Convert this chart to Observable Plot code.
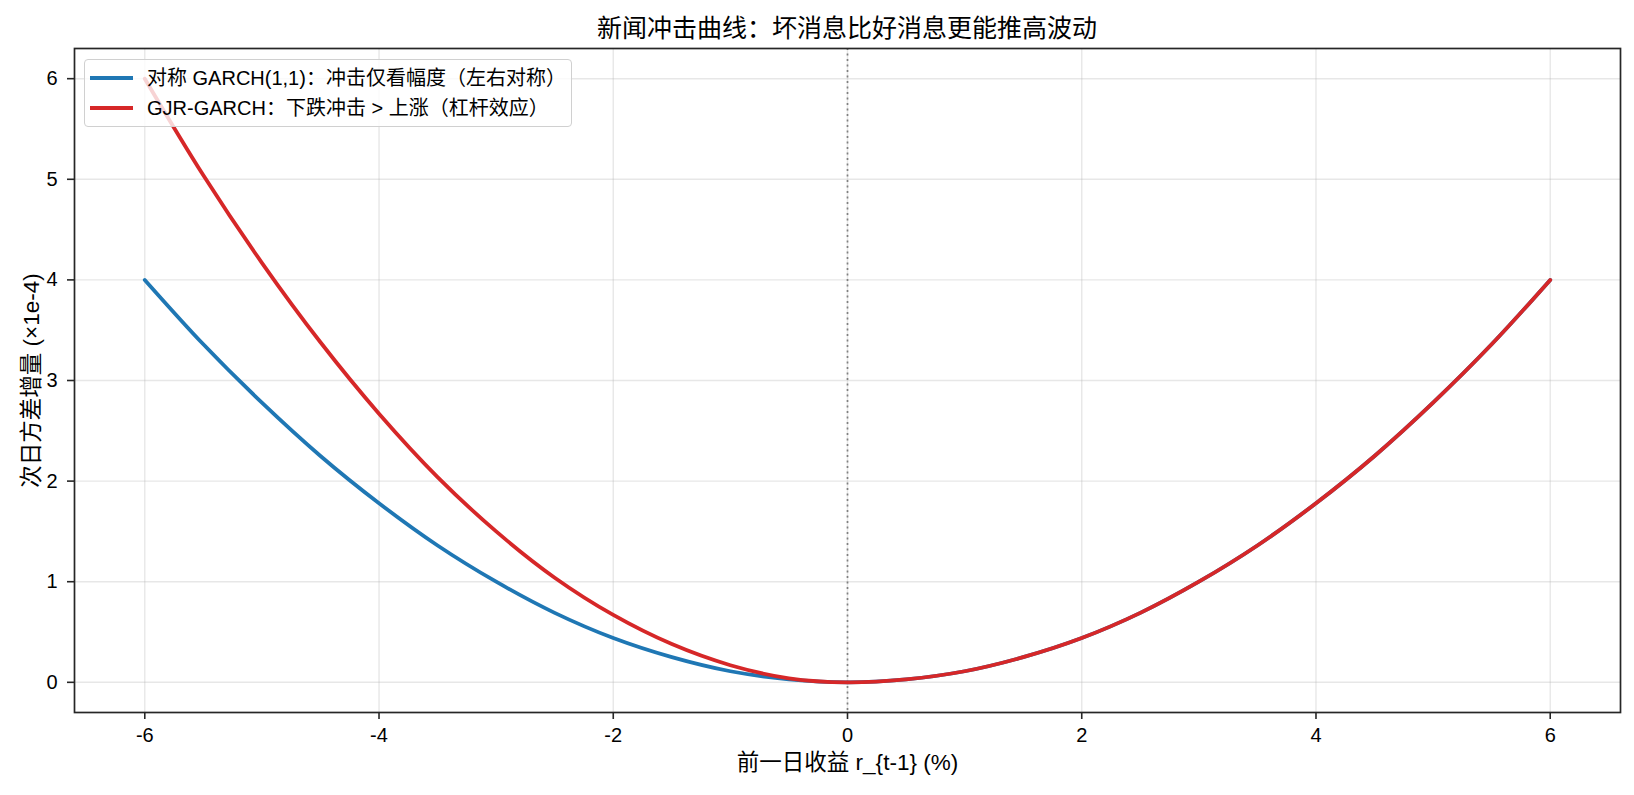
<!DOCTYPE html>
<html>
<head>
<meta charset="utf-8">
<script src="https://cdn.jsdelivr.net/npm/d3@7"></script>
<script src="https://cdn.jsdelivr.net/npm/@observablehq/plot@0.6"></script>
<style>
  html, body { margin: 0; padding: 0; background: #fff; }
  #wrap { position: relative; width: 1634px; height: 795px; font-family: "Liberation Sans", Arial, "Noto Sans CJK SC", sans-serif; color: #000; }
  #title { height: 46px; box-sizing: border-box; padding-top: 7px; line-height: 42px; text-align: center; font-size: 25px; padding-left: 60px; white-space: nowrap; }
  #legend { position: absolute; left: 84px; top: 59px; width: 488px; height: 68px; box-sizing: border-box;
            border: 1px solid #d0d0d0; border-radius: 4px; background: rgba(255,255,255,0.8); font-size: 20px; }
  .row { position: absolute; left: 0; height: 22px; line-height: 22px; white-space: nowrap; }
  .sw { position: absolute; left: 5px; top: 9px; width: 43px; height: 4px; }
  .lab { position: absolute; left: 62px; top: 0; }
</style>
</head>
<body>
<div id="wrap">
  <div id="title"></div>
  <div id="chart"></div>
  <div id="legend"></div>
</div>
<script>
// Previous-day return (%) at which the curves are sampled
const returns = [-6, -5.5, -5, -4.5, -4, -3.5, -3, -2.5, -2, -1.5, -1, -0.5, 0,
                 0.5, 1, 1.5, 2, 2.5, 3, 3.5, 4, 4.5, 5, 5.5, 6];
// Next-day variance increment (×1e-4), symmetric GARCH(1,1)
const garchImpact = [4.0, 3.36, 2.78, 2.25, 1.78, 1.36, 1.0, 0.69, 0.44, 0.25, 0.11, 0.03, 0,
                     0.03, 0.11, 0.25, 0.44, 0.69, 1.0, 1.36, 1.78, 2.25, 2.78, 3.36, 4.0];
// Next-day variance increment (×1e-4), GJR-GARCH (leverage on the negative side)
const gjrImpact = [6.0, 5.04, 4.17, 3.38, 2.67, 2.04, 1.5, 1.04, 0.67, 0.38, 0.17, 0.04, 0,
                   0.03, 0.11, 0.25, 0.44, 0.69, 1.0, 1.36, 1.78, 2.25, 2.78, 3.36, 4.0];

const seriesNames = ["对称 GARCH(1,1)：冲击仅看幅度（左右对称）", "GJR-GARCH：下跌冲击 > 上涨（杠杆效应）"];
const seriesColors = ["#1f77b4", "#d62728"];
const xTicks = [-6, -4, -2, 0, 2, 4, 6];
const yTicks = [0, 1, 2, 3, 4, 5, 6];
const titleText = "新闻冲击曲线：坏消息比好消息更能推高波动";
const xLabel = "前一日收益 r_{t-1} (%)";
const yLabel = "次日方差增量 (×1e-4)";

const rows = [];
returns.forEach((r, i) => rows.push({x: r, y: garchImpact[i], s: seriesNames[0]}));
returns.forEach((r, i) => rows.push({x: r, y: gjrImpact[i], s: seriesNames[1]}));

document.getElementById("title").textContent = titleText;

const font = '"Liberation Sans", Arial, "Noto Sans CJK SC", sans-serif';

const chart = Plot.plot({
  width: 1634,
  height: 749,
  marginLeft: 74,
  marginRight: 14,
  marginTop: 2,
  marginBottom: 83,
  style: {fontFamily: font, fontSize: "20px", color: "#000", background: "#fff"},
  x: {domain: [-6.6, 6.6]},
  y: {domain: [-0.3, 6.3]},
  color: {domain: seriesNames, range: seriesColors},
  marks: [
    Plot.gridX(xTicks, {stroke: "#b0b0b0", strokeOpacity: 0.3, strokeWidth: 1.4}),
    Plot.gridY(yTicks, {stroke: "#b0b0b0", strokeOpacity: 0.3, strokeWidth: 1.4}),
    Plot.ruleX([0], {stroke: "#808080", strokeWidth: 1.7, strokeDasharray: "2.1,3.4"}),
    Plot.line(rows, {x: "x", y: "y", z: "s", stroke: "s", strokeWidth: 3.8, curve: "catmull-rom"}),
    Plot.frame({stroke: "#262626", strokeWidth: 1.7}),
    Plot.axisX(xTicks, {tickSize: 7, tickPadding: 8, fontSize: 20, label: null, tickFormat: d => String(d), stroke: "#262626", strokeWidth: 1.6}),
    Plot.axisY(yTicks, {tickSize: 7, tickPadding: 10, fontSize: 20, label: null, tickFormat: d => String(d), stroke: "#262626", strokeWidth: 1.6}),
    Plot.text([xLabel], {frameAnchor: "bottom", dy: 57, fontSize: 22.5, text: d => d}),
    Plot.text([yLabel], {frameAnchor: "left", dx: -43, rotate: -90, textAnchor: "middle", fontSize: 22.5, text: d => d})
  ]
});
document.getElementById("chart").appendChild(chart);

// Legend box drawn inside the upper-left corner of the axes
const legend = document.getElementById("legend");
seriesNames.forEach((name, i) => {
  const row = document.createElement("div");
  row.className = "row";
  row.style.top = (i === 0 ? 7 : 37) + "px";
  const sw = document.createElement("div");
  sw.className = "sw";
  sw.style.background = seriesColors[i];
  const lab = document.createElement("div");
  lab.className = "lab";
  lab.textContent = name;
  row.appendChild(sw);
  row.appendChild(lab);
  legend.appendChild(row);
});
</script>
</body>
</html>
